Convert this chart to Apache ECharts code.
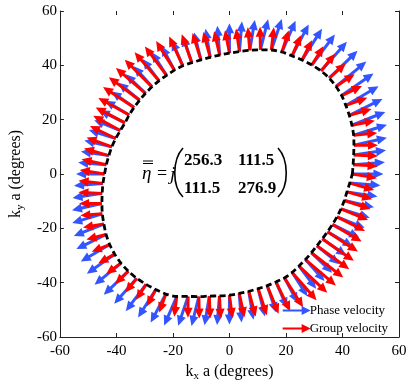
<!DOCTYPE html>
<html>
<head>
<meta charset="utf-8">
<script src="https://cdn.jsdelivr.net/npm/echarts@6/dist/echarts.min.js"></script>
<style>
html, body { margin: 0; padding: 0; background: #fff; }
#main { width: 415px; height: 387px; }
</style>
</head>
<body>
<div id="main"></div>
<script>
// axes
const axisMin = -60
const axisMax = 60
const axisStep = 20

// isofrequency contour: radius (degrees) every 4.5 deg of k direction
const angleStep = 4.5
const contourR = [
  43.5, 43.9, 44.5, 45.3, 46.2, 46.9, 47.6, 48.3, 49.1, 49.6,
  49.9, 49.9, 49.6, 49.2, 48.8, 48.6, 48.0, 47.0, 46.1, 45.2,
  44.5, 43.9, 43.5, 43.2, 43.1, 43.1, 42.9, 42.6, 42.4, 42.2,
  42.0, 41.8, 41.7, 41.6, 41.5, 41.8, 42.3, 42.8, 43.2, 43.7,
  44.2, 44.9, 45.6, 46.4, 47.3, 48.1, 49.0, 49.7, 50.2, 50.5,
  50.6, 50.5, 50.2, 49.9, 49.6, 48.8, 47.4, 46.4, 45.5, 45.0,
  44.6, 44.1, 43.7, 43.4, 43.2, 43.0, 42.9, 42.5, 41.9, 41.4,
  41.0, 40.7, 40.6, 40.7, 40.9, 41.2, 41.5, 41.8, 42.1, 42.7
]
// arrow lengths (same units) at each contour point
const phaseLen = [
  11.0, 11.3, 11.6, 12.0, 12.4, 12.8, 13.2, 13.6, 13.9, 14.1,
  14.2, 14.1, 13.9, 13.5, 13.0, 12.5, 12.0, 11.6, 11.3, 11.1,
  11.0, 10.8, 10.6, 10.4, 10.2, 10.1, 10.0, 10.0, 9.9, 9.9,
  9.9, 9.9, 9.9, 10.0, 10.0, 10.0, 10.0, 10.0, 10.0, 10.0,
  10.1, 10.3, 10.6, 10.9, 11.2, 11.5, 11.8, 12.0, 12.2, 12.3,
  12.3, 12.3, 12.2, 12.0, 11.8, 11.6, 11.3, 11.1, 10.9, 10.8,
  10.8, 10.7, 10.6, 10.5, 10.4, 10.3, 10.3, 10.3, 10.3, 10.4,
  10.4, 10.4, 10.5, 10.5, 10.6, 10.6, 10.7, 10.8, 10.9, 10.9
]
const groupLen = [
  8.8, 8.7, 8.6, 8.5, 8.4, 8.3, 8.2, 8.1, 8.0, 8.0,
  8.0, 8.0, 8.0, 8.1, 8.2, 8.3, 8.4, 8.5, 8.5, 8.5,
  8.6, 9.0, 9.6, 10.3, 11.0, 11.8, 12.5, 13.1, 13.6, 13.9,
  14.0, 13.8, 13.3, 12.6, 11.8, 11.0, 10.2, 9.6, 9.2, 9.0,
  8.9, 8.7, 8.4, 8.1, 7.8, 7.5, 7.2, 6.9, 6.7, 6.6,
  6.6, 6.6, 6.7, 6.9, 7.2, 7.5, 7.8, 8.1, 8.3, 8.4,
  8.5, 9.0, 9.6, 10.3, 11.1, 11.9, 12.7, 13.4, 14.0, 14.4,
  14.5, 14.3, 13.8, 13.0, 12.1, 11.2, 10.4, 9.8, 9.3, 9.0
]
const eta = [[256.3, 111.5], [111.5, 276.9]]
const seriesNames = ["Phase velocity", "Group velocity"]
const colors = ["#3355ff", "#ff0000"]

const contour = contourR.map((r, i) => {
  const a = (i * angleStep * Math.PI) / 180
  return [r * Math.cos(a), r * Math.sin(a)]
})
const n = contour.length
// phase velocity along k
const phaseArrows = contour.map((p, i) => {
  const a = (i * angleStep * Math.PI) / 180
  return [p[0], p[1], phaseLen[i] * Math.cos(a), phaseLen[i] * Math.sin(a)]
})
// group velocity normal to the contour
const groupArrows = contour.map((p, i) => {
  const a = contour[(i + n - 1) % n], b = contour[(i + 1) % n]
  let nx = b[1] - a[1], ny = -(b[0] - a[0])
  const l = Math.hypot(nx, ny)
  return [p[0], p[1], (groupLen[i] * nx) / l, (groupLen[i] * ny) / l]
})

const renderArrow = function (params, api) {
  const p0 = api.coord([api.value(0), api.value(1)])
  const p1 = api.coord([api.value(0) + api.value(2), api.value(1) + api.value(3)])
  let ux = p1[0] - p0[0], uy = p1[1] - p0[1]
  const L = Math.hypot(ux, uy)
  ux /= L; uy /= L
  const hl = Math.min(10, L * 0.6), hw = 4.6
  const bx = p1[0] - ux * hl, by = p1[1] - uy * hl
  const color = api.visual("color")
  return {
    type: "group",
    children: [
      { type: "line", shape: { x1: p0[0], y1: p0[1], x2: bx + ux, y2: by + uy }, style: { stroke: color, lineWidth: 3 } },
      { type: "polygon", shape: { points: [[p1[0], p1[1]], [bx - uy * hw, by + ux * hw], [bx + uy * hw, by - ux * hw]] }, style: { fill: color } }
    ]
  }
}

const arrowIcon = "path://M0,4 L19,4 L19,0.5 L28,5 L19,9.5 L19,6 L0,6 Z"
const serif = "Liberation Serif"
const axisBase = {
  min: axisMin,
  max: axisMax,
  interval: axisStep,
  splitLine: { show: false },
  axisLine: { show: true, onZero: false, lineStyle: { color: "#222", width: 1 } },
  axisTick: { inside: true, length: 4, lineStyle: { color: "#222" } }
}
const nameRich = {
  k: { fontFamily: serif, fontSize: 16, color: "#000" },
  s: { fontFamily: serif, fontSize: 11, color: "#000", padding: [9, 0, 0, 0] }
}

var chartDom = document.getElementById("main")
var myChart = echarts.init(chartDom)
var option = {
  animation: false,
  color: colors,
  grid: { left: 58, right: 16, top: 11, bottom: 48 },
  legend: {
    orient: "vertical",
    right: 22,
    top: 299,
    itemWidth: 28,
    itemHeight: 10,
    itemGap: 5,
    data: seriesNames.map(s => ({ name: s, icon: arrowIcon })),
    textStyle: { fontFamily: serif, fontSize: 13, color: "#000", padding: [0, 0, 0, -6] }
  },
  xAxis: [
    Object.assign({}, axisBase, {
      type: "value",
      position: "bottom",
      axisLabel: { color: "#000", fontFamily: serif, fontSize: 15, margin: 7 },
      name: "{k|k}{s|x}{k| a (degrees)}",
      nameLocation: "middle",
      nameGap: 25,
      nameTextStyle: { rich: nameRich }
    }),
    Object.assign({}, axisBase, {
      type: "value",
      position: "top",
      axisLine: { show: false, onZero: false },
      axisLabel: { show: false }
    })
  ],
  yAxis: [
    Object.assign({}, axisBase, {
      type: "value",
      position: "left",
      axisLabel: { color: "#000", fontFamily: serif, fontSize: 15, margin: 3 },
      name: "{k|k}{s|y}{k| a (degrees)}",
      nameLocation: "middle",
      nameGap: 33,
      nameTextStyle: { rich: nameRich }
    }),
    Object.assign({}, axisBase, {
      type: "value",
      position: "right",
      axisLabel: { show: false }
    })
  ],
  series: [
    {
      name: seriesNames[0],
      type: "custom",
      renderItem: renderArrow,
      encode: { x: 0, y: 1 },
      itemStyle: { color: colors[0] },
      data: phaseArrows,
      z: 2
    },
    {
      name: seriesNames[1],
      type: "custom",
      renderItem: renderArrow,
      encode: { x: 0, y: 1 },
      itemStyle: { color: colors[1] },
      data: groupArrows,
      z: 3
    },
    {
      name: "contour",
      type: "line",
      data: contour.concat([contour[0]]),
      showSymbol: false,
      smooth: 0.3,
      lineStyle: { color: "#000", width: 2.8, type: [6, 3.5] },
      z: 4
    }
  ],
  graphic: [
    { type: "text", left: 142, top: 164, style: { text: "\u03B7", font: "italic 19px Liberation Serif", fill: "#000" } },
    { type: "line", shape: { x1: 143, y1: 161, x2: 153, y2: 161 }, style: { stroke: "#000", lineWidth: 1 } },
    { type: "line", shape: { x1: 143, y1: 163.5, x2: 153, y2: 163.5 }, style: { stroke: "#000", lineWidth: 1 } },
    { type: "text", left: 157, top: 165, style: { text: "=", font: "18px Liberation Serif", fill: "#000" } },
    { type: "text", left: 170, top: 165, style: { text: "j", font: "italic 19px Liberation Serif", fill: "#000" } },
    { type: "bezierCurve", shape: { x1: 183, y1: 148, cpx1: 172, cpy1: 160, cpx2: 172, cpy2: 186, x2: 183, y2: 197 }, style: { stroke: "#000", lineWidth: 1.6, fill: null } },
    { type: "bezierCurve", shape: { x1: 278, y1: 148, cpx1: 289, cpy1: 160, cpx2: 289, cpy2: 186, x2: 278, y2: 197 }, style: { stroke: "#000", lineWidth: 1.6, fill: null } },
    { type: "text", left: 184, top: 152, style: { text: eta[0][0].toFixed(1), font: "bold 17px Liberation Serif", fill: "#000" } },
    { type: "text", left: 238, top: 152, style: { text: eta[0][1].toFixed(1), font: "bold 17px Liberation Serif", fill: "#000" } },
    { type: "text", left: 184, top: 180, style: { text: eta[1][0].toFixed(1), font: "bold 17px Liberation Serif", fill: "#000" } },
    { type: "text", left: 238, top: 180, style: { text: eta[1][1].toFixed(1), font: "bold 17px Liberation Serif", fill: "#000" } }
  ]
}
option && myChart.setOption(option)
</script>
</body>
</html>
